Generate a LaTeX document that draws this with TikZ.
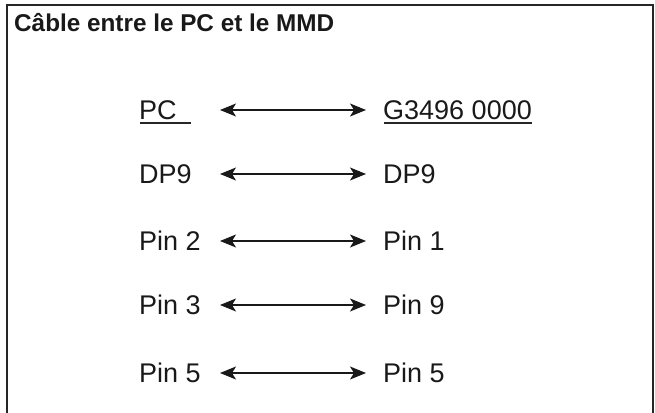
\documentclass[tikz,border=0pt]{standalone}
\usepackage{fontspec}
\setmainfont{Liberation Sans}
\usetikzlibrary{arrows.meta}
\tikzset{
  lbl/.style={anchor=base west, inner sep=0pt, font=\fontsize{27}{30}\selectfont, text=black!90},
  link/.style={line width=1.3pt, draw=black!90, {Stealth[length=16pt,width=13pt,inset=4pt]}-{Stealth[length=16pt,width=13pt,inset=4pt]}},
  frame/.style={line width=2pt, draw=black!85},
  uline/.style={line width=1.8pt, draw=black!85}
}
\begin{document}
\begin{tikzpicture}[x=1pt,y=-1pt]
\useasboundingbox (0,0) rectangle (655,412);
\draw[frame] (7,415) -- (7,5) -- (653,5) -- (653,415);
\node[anchor=base west, inner sep=0pt, font=\bfseries\fontsize{24.3}{27}\selectfont, text=black!90] (title) at (14,31.5) {Câble entre le PC et le MMD};
% rows
\foreach \n/\y/\l/\r in {a/110/PC/G3496 0000, b/174/DP9/DP9, c/241/Pin 2/Pin 1, d/305/Pin 3/Pin 9, e/373/Pin 5/Pin 5}{
  \node[lbl] (L\n) at (139,\y+9) {\l};
  \node[lbl] (R\n) at (383,\y+9) {\r};
  \coordinate (A\n) at (220,\y);
  \coordinate (B\n) at (366,\y);
  \draw[link] (A\n) -- (B\n);
}
\draw[uline] (La.base west) ++(1,4) coordinate (u1) -- (191,123);
\draw[uline] (Ra.base west) ++(1,4) coordinate (u2) -- (Ra.base east |- u2);
\end{tikzpicture}
\end{document}
